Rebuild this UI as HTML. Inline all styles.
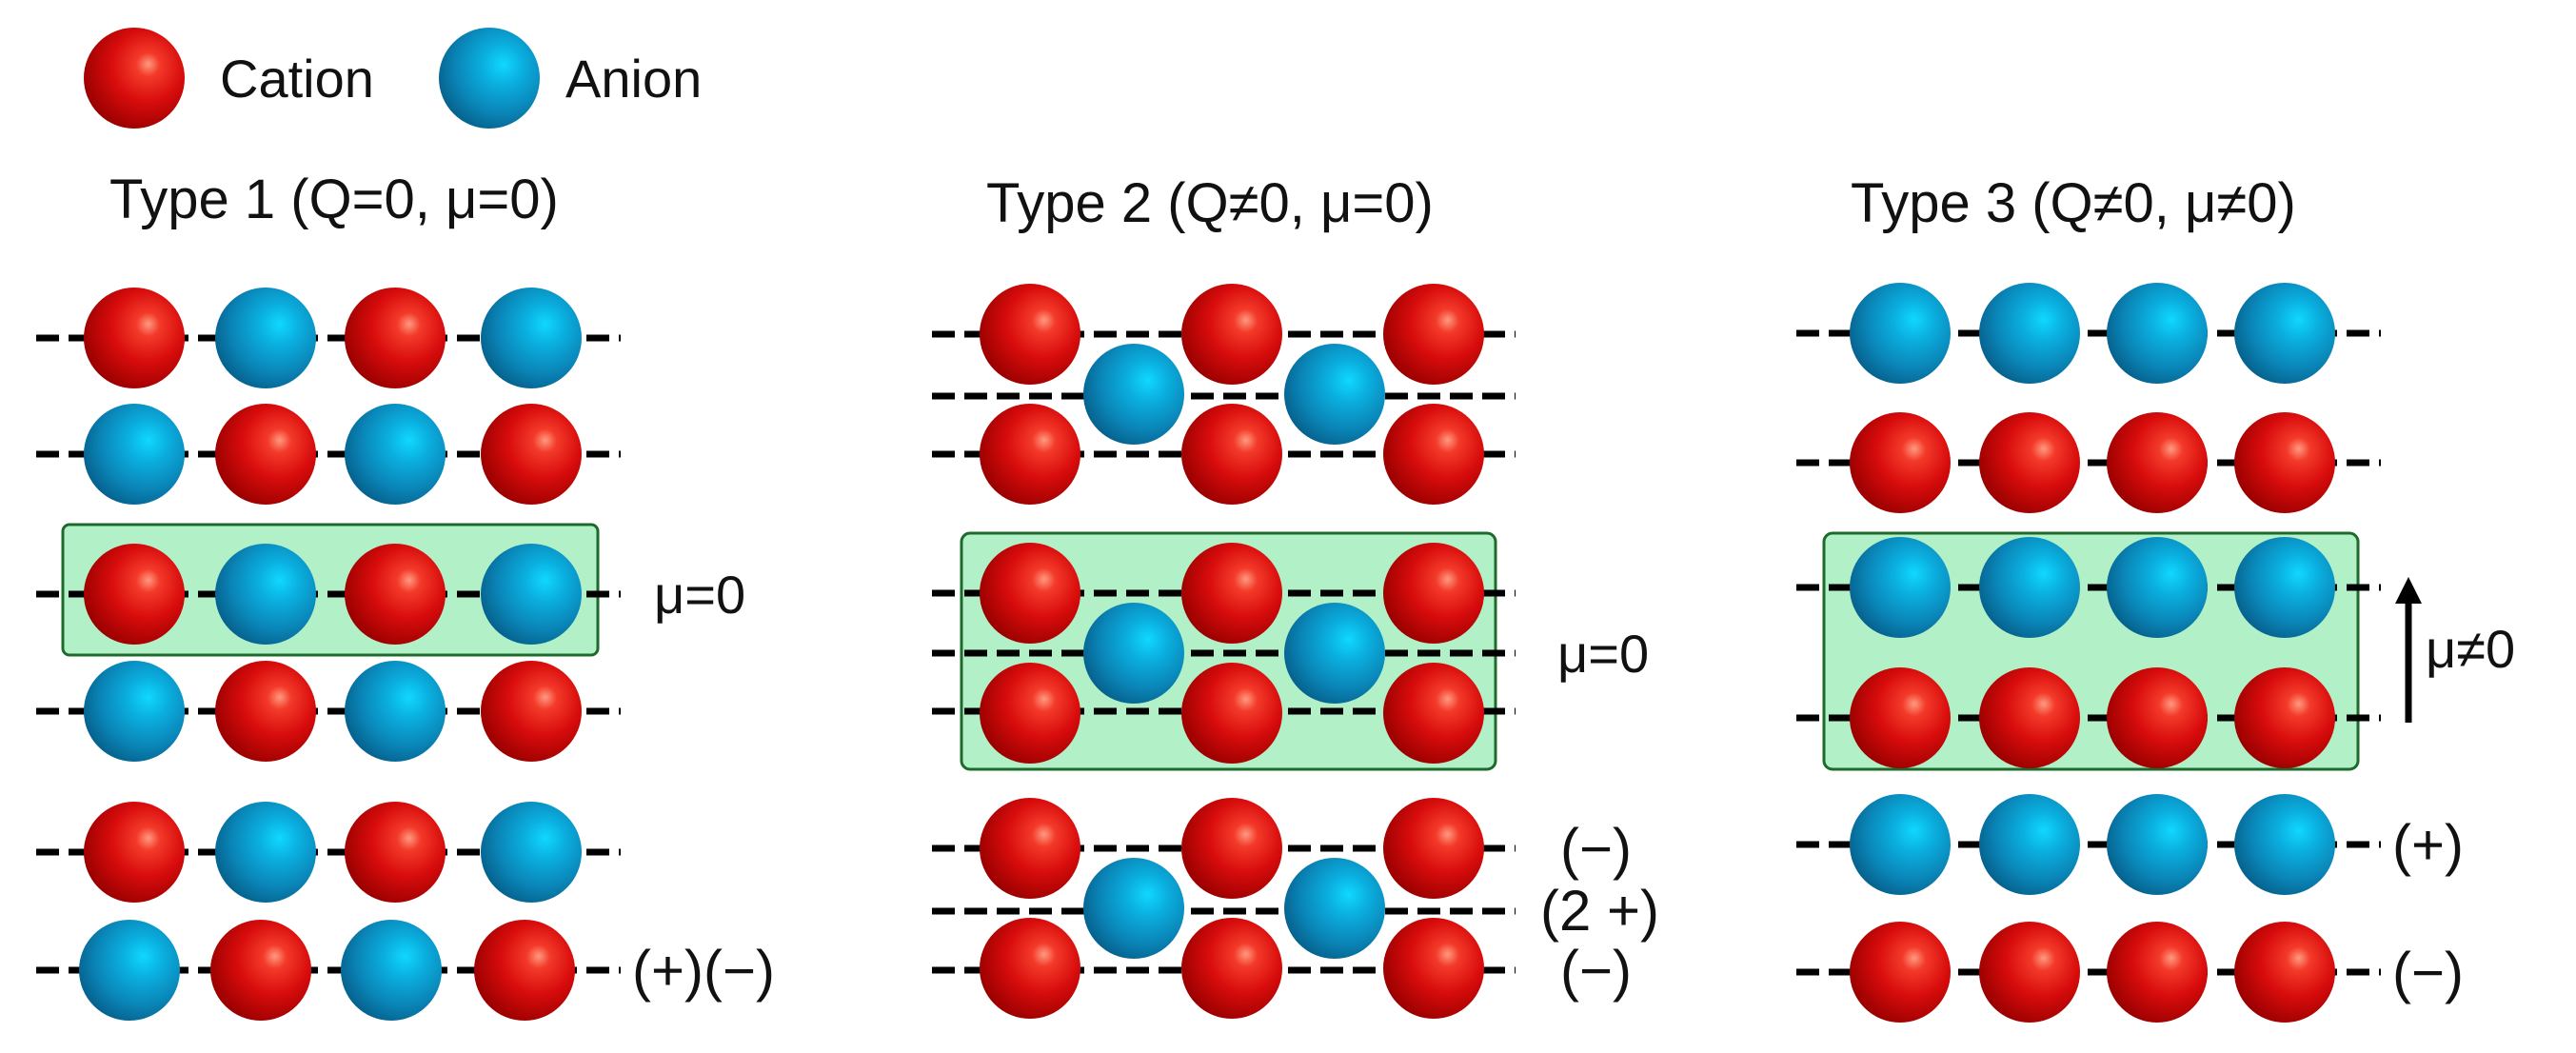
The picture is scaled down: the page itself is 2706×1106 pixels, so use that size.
<!DOCTYPE html>
<html><head><meta charset="utf-8"><style>
html,body{margin:0;padding:0;background:#fff;}
svg{display:block}
text{font-family:"Liberation Sans",Arial,sans-serif;fill:#111}
</style></head><body>
<svg width="2706" height="1106" viewBox="0 0 2706 1106" xmlns="http://www.w3.org/2000/svg">
<defs>
<radialGradient id="r" cx="0.62" cy="0.4" r="0.65" fx="0.64" fy="0.36">
<stop offset="0" stop-color="#ff9a80"/><stop offset="0.18" stop-color="#f33a2a"/><stop offset="0.55" stop-color="#d80c0c"/><stop offset="1" stop-color="#9a0000"/></radialGradient>
<radialGradient id="b" cx="0.62" cy="0.4" r="0.65" fx="0.64" fy="0.36">
<stop offset="0" stop-color="#10d8ff"/><stop offset="0.3" stop-color="#0ab0e0"/><stop offset="0.7" stop-color="#0a86b8"/><stop offset="1" stop-color="#06628e"/></radialGradient>
<g id="R"><circle r="53" fill="url(#r)"/></g>
<g id="B"><circle r="53" fill="url(#b)"/></g>
</defs>
<!-- legend -->
<use href="#R" x="141" y="82"/>
<text x="231" y="102" font-size="56">Cation</text>
<use href="#B" x="514" y="82"/>
<text x="594" y="102" font-size="56">Anion</text>
<!-- titles -->
<text x="115" y="229" font-size="58">Type 1 (Q=0, μ=0)</text>
<text x="1036" y="233" font-size="58">Type 2 (Q≠0, μ=0)</text>
<text x="1944" y="233" font-size="58">Type 3 (Q≠0, μ≠0)</text>
<!-- boxes -->
<rect x="66" y="551" width="562" height="137" rx="7" fill="#b2f0c8" stroke="#1d6b2b" stroke-width="3"/>
<rect x="1010" y="560" width="561" height="248" rx="9" fill="#b2f0c8" stroke="#1d6b2b" stroke-width="3"/>
<rect x="1916" y="560" width="561" height="248" rx="9" fill="#b2f0c8" stroke="#1d6b2b" stroke-width="3"/>
<!-- lines -->
<g stroke="#000" stroke-width="7" stroke-dasharray="24 10" fill="none">
<path d="M38 355H652M38 477H652M38 624H652M38 747H652M38 895H652M38 1019H652"/>
<path d="M979 351H1592M979 416H1592M979 477H1592M979 623H1592M979 686H1592M979 747H1592M979 891H1592M979 957H1592M979 1019H1592"/>
<path d="M1887 350H2501M1887 486H2501M1887 617H2501M1887 754H2501M1887 887H2501M1887 1021H2501"/>
</g>
<!-- panel 1 -->
<use href="#R" x="141" y="355"/><use href="#B" x="279" y="355"/><use href="#R" x="415" y="355"/><use href="#B" x="558" y="355"/>
<use href="#B" x="141" y="477"/><use href="#R" x="279" y="477"/><use href="#B" x="415" y="477"/><use href="#R" x="558" y="477"/>
<use href="#R" x="141" y="624"/><use href="#B" x="279" y="624"/><use href="#R" x="415" y="624"/><use href="#B" x="558" y="624"/>
<use href="#B" x="141" y="747"/><use href="#R" x="279" y="747"/><use href="#B" x="415" y="747"/><use href="#R" x="558" y="747"/>
<use href="#R" x="141" y="895"/><use href="#B" x="279" y="895"/><use href="#R" x="415" y="895"/><use href="#B" x="558" y="895"/>
<use href="#B" x="136" y="1019"/><use href="#R" x="274" y="1019"/><use href="#B" x="411" y="1019"/><use href="#R" x="551" y="1019"/>
<text x="687" y="644" font-size="56" fill="#333">μ=0</text>
<text x="664" y="1040" font-size="60" fill="#444">(+)(−)</text>
<!-- panel 2 -->
<g id="grp">
<use href="#R" x="1082" y="351"/><use href="#R" x="1294" y="351"/><use href="#R" x="1506" y="351"/>
<use href="#R" x="1082" y="477"/><use href="#R" x="1294" y="477"/><use href="#R" x="1506" y="477"/>
<use href="#B" x="1191" y="414"/><use href="#B" x="1402" y="414"/>
</g>
<use href="#grp" y="272"/>
<use href="#grp" y="540"/>
<text x="1636" y="706" font-size="56" fill="#333">μ=0</text>
<text x="1639" y="912" font-size="60" fill="#444">(−)</text>
<text x="1618" y="977" font-size="60" fill="#444">(2 +)</text>
<text x="1639" y="1040" font-size="60" fill="#444">(−)</text>
<!-- panel 3 -->
<g id="rb"><use href="#B" x="1996" y="350"/><use href="#B" x="2132" y="350"/><use href="#B" x="2266" y="350"/><use href="#B" x="2400" y="350"/></g>
<g id="rr"><use href="#R" x="1996" y="486"/><use href="#R" x="2132" y="486"/><use href="#R" x="2266" y="486"/><use href="#R" x="2400" y="486"/></g>
<use href="#rb" y="267"/><use href="#rr" y="268"/>
<use href="#rb" y="537"/><use href="#rr" y="535"/>
<line x1="2530" y1="759" x2="2530" y2="630" stroke="#000" stroke-width="7"/>
<polygon points="2516,634 2544,634 2530,606" fill="#000"/>
<text x="2548" y="701" font-size="56" fill="#333">μ≠0</text>
<text x="2513" y="908" font-size="60" fill="#444">(+)</text>
<text x="2513" y="1042" font-size="60" fill="#444">(−)</text>
</svg>
</body></html>
